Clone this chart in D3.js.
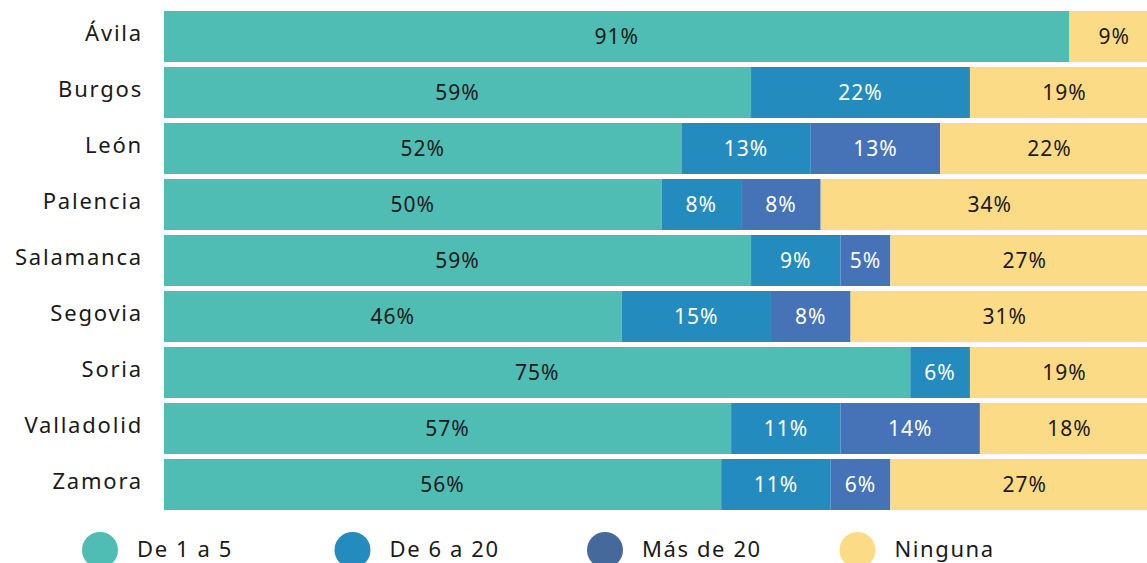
<!DOCTYPE html>
<html>
<head>
<meta charset="utf-8">
<script src="https://cdn.jsdelivr.net/npm/d3@7"></script>
<style>
  body { margin: 0; background: #fff; overflow: hidden; }
  svg text { font-family: "Noto Sans", sans-serif; }
</style>
</head>
<body>
<div id="chart"></div>
<script>
// provinces and share of each group (%)
let provinces = ["Ávila", "Burgos", "León", "Palencia", "Salamanca", "Segovia", "Soria", "Valladolid", "Zamora"];
let groups = ["De 1 a 5", "De 6 a 20", "Más de 20", "Ninguna"];
let de1a5 = [91, 59, 52, 50, 59, 46, 75, 57, 56];
let de6a20 = [0, 22, 13, 8, 9, 15, 6, 11, 11];
let mas20 = [0, 0, 13, 8, 5, 8, 0, 14, 6];
let ninguna = [9, 19, 22, 34, 27, 31, 19, 18, 27];

let barColors = ["#4fbdb4", "#238bbd", "#4672b7", "#fcdb87"];
let legendColors = ["#4fbdb4", "#238bbd", "#45699b", "#fcdb87"];
let textColors = ["#1a1a1a", "#ffffff", "#ffffff", "#1a1a1a"];

let width = 1147,
    height = 563;

let svg = d3.select("#chart")
    .append("svg")
    .attr("width", width)
    .attr("height", height);

let data = provinces.map(function (p, i) {
    return { province: p, "De 1 a 5": de1a5[i], "De 6 a 20": de6a20[i], "Más de 20": mas20[i], "Ninguna": ninguna[i] };
});

let stacked = d3.stack().keys(groups)(data);

// bars run past the right edge (chart is cropped)
let x = d3.scaleLinear()
    .domain([0, 100])
    .range([164, 1159]);

let y = d3.scaleBand()
    .domain(provinces)
    .range([8.5, 512.5])
    .paddingInner(5 / 56)
    .paddingOuter(5 / 112);

let layer = svg.selectAll(".layer")
    .data(stacked)
    .enter()
    .append("g")
    .attr("class", "layer");

layer.selectAll("rect")
    .data(function (d) { return d; })
    .enter()
    .append("rect")
    .attr("x", function (d) { return x(d[0]); })
    .attr("y", function (d) { return y(d.data.province); })
    .attr("width", function (d) { return x(d[1]) - x(d[0]); })
    .attr("height", y.bandwidth())
    .style("fill", function (d, i, nodes) {
        return barColors[groups.indexOf(d3.select(nodes[i].parentNode).datum().key)];
    });

stacked.forEach(function (s, k) {
    svg.append("g")
        .selectAll("text")
        .data(s.filter(function (d) { return d[1] - d[0] > 0; }))
        .enter()
        .append("text")
        .attr("x", function (d) { return (x(d[0]) + x(d[1])) / 2; })
        .attr("y", function (d) { return y(d.data.province) + y.bandwidth() / 2; })
        .attr("dy", "0.35em")
        .style("text-anchor", "middle")
        .style("font-size", "21px")
        .style("letter-spacing", "1px")
        .style("fill", textColors[k])
        .text(function (d) { return (d[1] - d[0]) + "%"; });
});

// category axis
let yAxis = svg.append("g")
    .attr("transform", "translate(143,0)")
    .call(d3.axisLeft(y).tickSize(0).tickPadding(0));
yAxis.select(".domain").remove();
yAxis.selectAll("text")
    .style("font-size", "22px")
    .style("letter-spacing", "1.8px")
    .style("fill", "#1a1a1a")
    .attr("dy", "0.2em");

// legend
let legend = svg.selectAll(".legend")
    .data(groups)
    .enter()
    .append("g")
    .attr("class", "legend")
    .attr("transform", function (d, i) { return "translate(" + (100 + i * 252.5) + ",550)"; });

legend.append("circle")
    .attr("r", 18)
    .style("fill", function (d, i) { return legendColors[i]; });

legend.append("text")
    .attr("x", 37)
    .attr("y", 0)
    .attr("dy", "0.3em")
    .style("font-size", "22px")
    .style("letter-spacing", "1.6px")
    .style("fill", "#1a1a1a")
    .text(function (d) { return d; });
</script>
</body>
</html>
